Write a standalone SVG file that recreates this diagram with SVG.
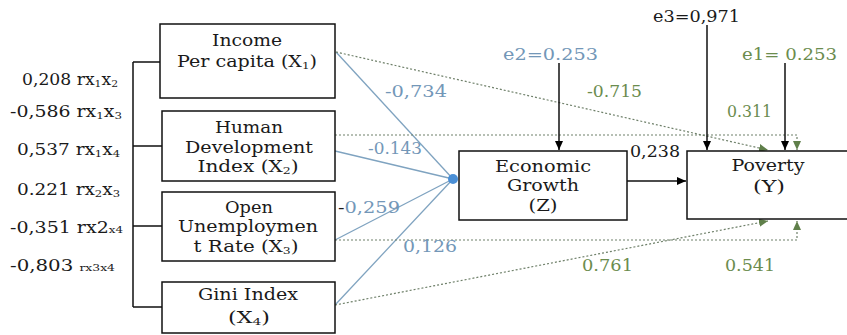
<svg xmlns="http://www.w3.org/2000/svg" width="847" height="335" viewBox="0 0 847 335" font-family="DejaVu Serif, serif" font-size="16">
<defs>
<marker id="ab" markerWidth="10" markerHeight="10" refX="9" refY="5" orient="auto" markerUnits="userSpaceOnUse"><path d="M0,1 L9,5 L0,9 Z" fill="#000"/></marker>
<marker id="ag" markerWidth="10" markerHeight="10" refX="9" refY="5" orient="auto" markerUnits="userSpaceOnUse"><path d="M0,1 L9,5 L0,9 Z" fill="#5f7f4a"/></marker>
</defs>
<style>
text{font-family:'DejaVu Serif',serif;font-size:16px;fill:#1a1a1a}
.box{fill:#fff;stroke:#111;stroke-width:1.5}
.c{text-anchor:middle}
.bl{fill:#7397b8}
.gr{fill:#6b8c4e}
.sb{stroke:#7fa3c0;stroke-width:1.3;fill:none}
.dt{stroke:#6f806a;stroke-width:1.2;stroke-dasharray:2,2;fill:none}
.sk{stroke:#111;stroke-width:1.5;fill:none}
.sub{font-size:10px}
</style>
<g id="connectors">
<path class="sk" d="M133,62 V307 M133,62 H161 M133,146 H162 M133,226 H162 M133,307 H162"/>
<line class="sb" x1="336" y1="52" x2="453" y2="179"/>
<line class="sb" x1="335" y1="151" x2="453" y2="179"/>
<line class="sb" x1="335" y1="240" x2="453" y2="179"/>
<line class="sb" x1="335" y1="305" x2="453" y2="179"/>
<circle cx="453" cy="179" r="5" fill="#4a8fd6"/>
<line class="dt" x1="336" y1="52" x2="768" y2="150" marker-end="url(#ag)"/>
<polyline class="dt" points="335,135 797,135 797,150" marker-end="url(#ag)"/>
<polyline class="dt" points="335,240 797,240 797,221" marker-end="url(#ag)"/>
<line class="dt" x1="335" y1="305" x2="768" y2="221" marker-end="url(#ag)"/>
<line class="sk" x1="627" y1="181" x2="686" y2="181" marker-end="url(#ab)"/>
<line class="sk" x1="559" y1="63" x2="559" y2="150" marker-end="url(#ab)"/>
<line class="sk" x1="707" y1="25" x2="707" y2="150" marker-end="url(#ab)"/>
<line class="sk" x1="785" y1="63" x2="785" y2="150" marker-end="url(#ab)"/>
</g>
<g id="n-x1"><rect class="box" x="160" y="24" width="175" height="74"/>
<text class="c" x="247" y="46" textLength="70" lengthAdjust="spacingAndGlyphs">Income</text>
<text class="c" x="247" y="67" textLength="140" lengthAdjust="spacingAndGlyphs">Per capita (X<tspan class="sub" dy="2">1</tspan><tspan dy="-2">)</tspan></text></g>
<g id="n-x2"><rect class="box" x="162" y="111" width="173" height="70"/>
<text class="c" x="249" y="133" textLength="68" lengthAdjust="spacingAndGlyphs">Human</text>
<text class="c" x="249" y="153" textLength="128" lengthAdjust="spacingAndGlyphs">Development</text>
<text class="c" x="248" y="172" textLength="101" lengthAdjust="spacingAndGlyphs">Index (X<tspan class="sub" dy="2">2</tspan><tspan dy="-2">)</tspan></text></g>
<g id="n-x3"><rect class="box" x="162" y="192" width="173" height="69"/>
<text class="c" x="249" y="213" textLength="48" lengthAdjust="spacingAndGlyphs">Open</text>
<text class="c" x="248" y="232" textLength="140" lengthAdjust="spacingAndGlyphs">Unemploymen</text>
<text class="c" x="246" y="252" textLength="105" lengthAdjust="spacingAndGlyphs">t Rate (X<tspan class="sub" dy="2">3</tspan><tspan dy="-2">)</tspan></text></g>
<g id="n-x4"><rect class="box" x="162" y="282" width="173" height="51"/>
<text class="c" x="248" y="300" textLength="100" lengthAdjust="spacingAndGlyphs">Gini Index</text>
<text class="c" x="249" y="323" textLength="42" lengthAdjust="spacingAndGlyphs">(X<tspan class="sub" dy="2">4</tspan><tspan dy="-2">)</tspan></text></g>
<g id="n-z"><rect class="box" x="459" y="151" width="168" height="69"/>
<text class="c" x="543" y="172" textLength="96" lengthAdjust="spacingAndGlyphs">Economic</text>
<text class="c" x="543" y="191" textLength="72" lengthAdjust="spacingAndGlyphs">Growth</text>
<text class="c" x="543" y="211" textLength="29" lengthAdjust="spacingAndGlyphs">(Z)</text></g>
<g id="n-y"><rect class="box" x="687" y="151" width="170" height="68"/>
<text class="c" x="768" y="171" textLength="73" lengthAdjust="spacingAndGlyphs">Poverty</text>
<text class="c" x="769" y="192" textLength="32" lengthAdjust="spacingAndGlyphs">(Y)</text></g>
<g id="labels">
<text x="22" y="85" textLength="96" lengthAdjust="spacingAndGlyphs">0,208 rx<tspan class="sub" dy="2">1</tspan><tspan dy="-2">x</tspan><tspan class="sub" dy="2">2</tspan></text>
<text x="10" y="117" textLength="112" lengthAdjust="spacingAndGlyphs">-0,586 rx<tspan class="sub" dy="2">1</tspan><tspan dy="-2">x</tspan><tspan class="sub" dy="2">3</tspan></text>
<text x="17" y="155" textLength="103" lengthAdjust="spacingAndGlyphs">0,537 rx<tspan class="sub" dy="2">1</tspan><tspan dy="-2">x</tspan><tspan class="sub" dy="2">4</tspan></text>
<text x="17" y="195" textLength="103" lengthAdjust="spacingAndGlyphs">0.221 rx<tspan class="sub" dy="2">2</tspan><tspan dy="-2">x</tspan><tspan class="sub" dy="2">3</tspan></text>
<text x="10" y="233" textLength="113" lengthAdjust="spacingAndGlyphs">-0,351 rx2<tspan class="sub">x4</tspan></text>
<text x="10" y="271" textLength="105" lengthAdjust="spacingAndGlyphs">-0,803 <tspan class="sub">rx3x4</tspan></text>
<text class="bl" x="385" y="97" textLength="62" lengthAdjust="spacingAndGlyphs">-0,734</text>
<text class="bl" x="368" y="154" textLength="54" lengthAdjust="spacingAndGlyphs">-0.143</text>
<text x="338" y="213" textLength="62" lengthAdjust="spacingAndGlyphs">-<tspan class="bl">0,259</tspan></text>
<text class="bl" x="403" y="252" textLength="54" lengthAdjust="spacingAndGlyphs">0,126</text>
<text class="gr" x="587" y="97" textLength="55" lengthAdjust="spacingAndGlyphs">-0.715</text>
<text class="gr" x="727" y="117" textLength="45" lengthAdjust="spacingAndGlyphs">0.311</text>
<text x="630" y="157" textLength="50" lengthAdjust="spacingAndGlyphs">0,238</text>
<text class="gr" x="582" y="271" textLength="51" lengthAdjust="spacingAndGlyphs">0.761</text>
<text class="gr" x="725" y="271" textLength="50" lengthAdjust="spacingAndGlyphs">0.541</text>
<text class="bl" x="503" y="60" textLength="95" lengthAdjust="spacingAndGlyphs">e2=0.253</text>
<text x="653" y="22" textLength="87" lengthAdjust="spacingAndGlyphs">e3=0,971</text>
<text class="gr" x="742" y="60" textLength="95" lengthAdjust="spacingAndGlyphs">e1= 0.253</text>
</g>
</svg>
